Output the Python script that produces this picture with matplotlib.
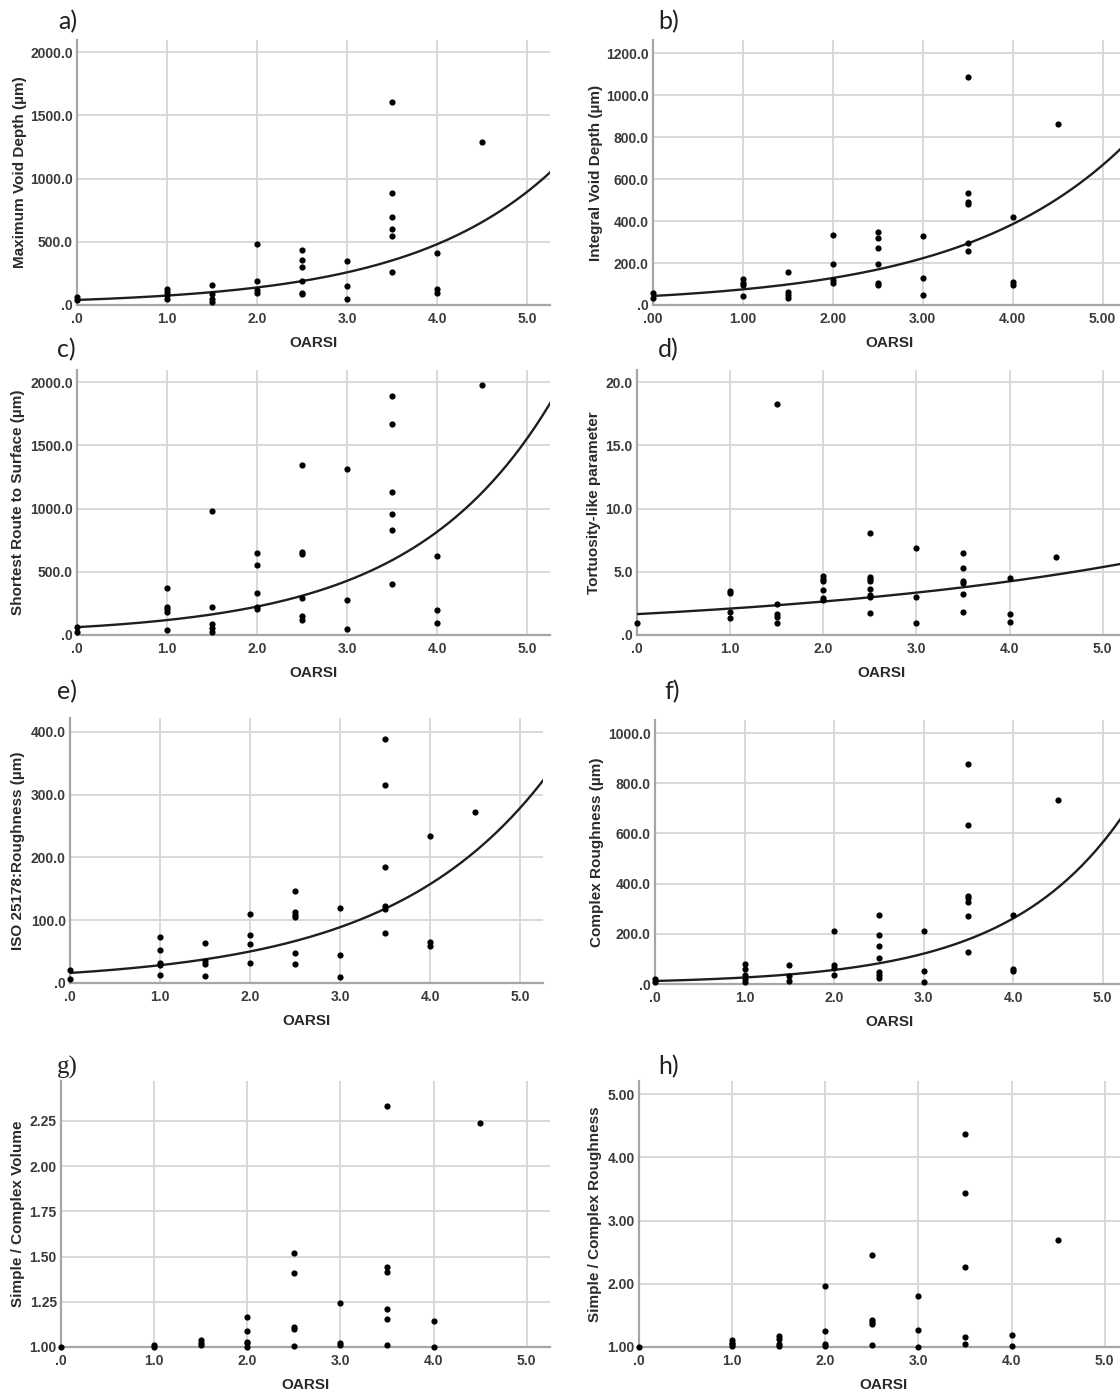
import numpy as np
import matplotlib
matplotlib.use("Agg")
import matplotlib.pyplot as plt

W, H = 1120, 1395

# ---- scatter data (OARSI grade vs. measured value) ----
a_x = [0, 0, 1, 1, 1, 1, 1.5, 1.5, 1.5, 1.5, 2, 2, 2, 2,
       2.5, 2.5, 2.5, 2.5, 2.5, 2.5, 3, 3, 3,
       3.5, 3.5, 3.5, 3.5, 3.5, 3.5, 4, 4, 4, 4.5]
a_y = [60, 40, 130, 105, 80, 50, 160, 90, 50, 25, 480, 190, 120, 95,
       437, 353, 303, 192, 97, 87, 347, 153, 47,
       1603, 882, 692, 597, 545, 258, 410, 124, 92, 1289]

b_x = [0, 0, 1, 1, 1, 1, 1.5, 1.5, 1.5, 1.5, 2, 2, 2, 2,
       2.5, 2.5, 2.5, 2.5, 2.5, 2.5, 3, 3, 3,
       3.5, 3.5, 3.5, 3.5, 3.5, 3.5, 4, 4, 4, 4.5]
b_y = [59, 35, 122, 107, 95, 43, 159, 64, 48, 32, 332, 194, 119, 103,
       346, 321, 270, 194, 103, 95, 327, 130, 49,
       1086, 533, 490, 482, 294, 259, 418, 108, 95, 862]

c_x = [0, 0, 1, 1, 1, 1, 1, 1.5, 1.5, 1.5, 1.5, 1.5, 2, 2, 2, 2, 2,
       2.5, 2.5, 2.5, 2.5, 2.5, 2.5, 3, 3, 3,
       3.5, 3.5, 3.5, 3.5, 3.5, 3.5, 4, 4, 4, 4.5]
c_y = [66, 26, 375, 224, 203, 185, 40, 984, 224, 84, 58, 26, 646, 551, 330, 224, 203,
       1343, 657, 644, 295, 153, 119, 1311, 274, 45,
       1894, 1670, 1129, 958, 831, 406, 628, 195, 92, 1979]

d_x = [0, 1, 1, 1, 1, 1.5, 1.5, 1.5, 1.5, 1.5, 2, 2, 2, 2, 2, 2,
       2.5, 2.5, 2.5, 2.5, 2.5, 2.5, 2.5, 2.5, 3, 3, 3,
       3.5, 3.5, 3.5, 3.5, 3.5, 3.5, 4, 4, 4, 4.5]
d_y = [0.92, 3.5, 3.3, 1.85, 1.37, 18.3, 2.45, 1.64, 1.4, 0.92, 4.67, 4.46, 4.3, 3.56, 2.95, 2.77,
       8.05, 4.62, 4.46, 4.3, 3.61, 3.17, 3.03, 1.77, 6.91, 2.98, 0.92,
       6.46, 5.33, 4.25, 4.09, 3.22, 1.85, 4.49, 1.66, 1.06, 6.2]

e_x = [0, 0, 1, 1, 1, 1, 1, 1.5, 1.5, 1.5, 1.5, 2, 2, 2, 2,
       2.5, 2.5, 2.5, 2.5, 2.5, 2.5, 3, 3, 3,
       3.5, 3.5, 3.5, 3.5, 3.5, 3.5, 4, 4, 4, 4.5]
e_y = [21, 6, 74, 52, 32, 29, 12, 64, 35, 31, 11, 110, 76, 62, 32,
       147, 113, 109, 105, 48, 30, 120, 44, 9,
       388, 315, 185, 122, 118, 80, 234, 65, 59, 273]

f_x = [0, 0, 1, 1, 1, 1, 1, 1.5, 1.5, 1.5, 2, 2, 2, 2,
       2.5, 2.5, 2.5, 2.5, 2.5, 2.5, 2.5, 3, 3, 3,
       3.5, 3.5, 3.5, 3.5, 3.5, 3.5, 3.5, 4, 4, 4, 4.5]
f_y = [20, 9, 80, 58, 35, 20, 7, 74, 33, 10, 213, 76, 62, 36,
       273, 197, 153, 104, 47, 36, 25, 213, 52, 8,
       876, 632, 351, 342, 328, 271, 129, 275, 60, 53, 734]

g_x = [0, 1, 1, 1.5, 1.5, 1.5, 2, 2, 2, 2, 2,
       2.5, 2.5, 2.5, 2.5, 2.5, 3, 3, 3,
       3.5, 3.5, 3.5, 3.5, 3.5, 3.5, 4, 4, 4.5]
g_y = [1.00, 1.01, 1.0, 1.04, 1.02, 1.01, 1.164, 1.09, 1.03, 1.02, 1.00,
       1.52, 1.41, 1.11, 1.10, 1.005, 1.245, 1.02, 1.01,
       2.33, 1.44, 1.415, 1.21, 1.155, 1.01, 1.146, 1.00, 2.24]

h_x = [0, 1, 1, 1, 1, 1.5, 1.5, 1.5, 1.5, 2, 2, 2, 2,
       2.5, 2.5, 2.5, 2.5, 2.5, 3, 3, 3,
       3.5, 3.5, 3.5, 3.5, 3.5, 4, 4, 4.5]
h_y = [1.00, 1.105, 1.07, 1.04, 1.015, 1.18, 1.12, 1.05, 1.01, 1.96, 1.25, 1.04, 1.015,
       2.45, 1.42, 1.40, 1.36, 1.03, 1.80, 1.27, 1.0,
       4.37, 3.44, 2.26, 1.16, 1.05, 1.185, 1.01, 2.70]

# exponential fit lines y = A * exp(B * x)
fit_a = (40, 0.622)
fit_b = (43, 0.548)
fit_c = (62, 0.645)
fit_d = (1.65, 0.236)
fit_e = (16, 0.572)
fit_f = (12, 0.77)

y_labels = ["Maximum Void Depth (µm)", "Integral Void Depth (µm)",
            "Shortest Route to Surface (µm)", "Tortuosity-like parameter",
            "ISO 25178:Roughness (µm)", "Complex Roughness (µm)",
            "Simple / Complex Volume", "Simple / Complex Roughness"]
panel_tags = ["a)", "b)", "c)", "d)", "e)", "f)", "g)", "h)"]

yticks_a = [0, 500, 1000, 1500, 2000]
yticks_b = [0, 200, 400, 600, 800, 1000, 1200]
yticks_c = [0, 500, 1000, 1500, 2000]
yticks_d = [0, 5, 10, 15, 20]
yticks_e = [0, 100, 200, 300, 400]
yticks_f = [0, 200, 400, 600, 800, 1000]
yticks_g = [1.00, 1.25, 1.50, 1.75, 2.00, 2.25]
yticks_h = [1, 2, 3, 4, 5]
xticks = [0, 1, 2, 3, 4, 5]


def spss_fmt(v, dec):
    # SPSS drops the leading zero: 0.0 -> ".0"
    s = f"{v:.{dec}f}"
    if s.startswith("0."):
        s = s[1:]
    return s


# layout in pixels: left, right, top, bottom of plot area
boxes = [(77, 550, 40, 305), (653, 1125, 40, 305),
         (77, 550, 370, 635), (637, 1126, 370, 635),
         (70, 543, 718, 983), (655, 1125, 720, 984),
         (61, 550, 1081, 1347), (639, 1128, 1081, 1347)]
ylabel_x = [20, 596, 18, 594, 18, 597, 18, 595]
tag_pos = [(58, 22), (658, 22), (57, 350), (658, 350),
           (57, 692), (664, 692), (57, 1067), (658, 1067)]

panels = [
    (a_x, a_y, fit_a, yticks_a, 2095, 0, 1, 1),
    (b_x, b_y, fit_b, yticks_b, 1262, 0, 1, 2),
    (c_x, c_y, fit_c, yticks_c, 2097, 0, 1, 1),
    (d_x, d_y, fit_d, yticks_d, 20.95, 0, 1, 1),
    (e_x, e_y, fit_e, yticks_e, 422, 0, 1, 1),
    (f_x, f_y, fit_f, yticks_f, 1052, 0, 1, 1),
    (g_x, g_y, None, yticks_g, 2.47, 1.0, 2, 1),
    (h_x, h_y, None, yticks_h, 5.21, 1.0, 2, 1),
]

plt.rcParams['font.family'] = ['Liberation Sans', 'DejaVu Sans']

fig = plt.figure(figsize=(W / 100, H / 100), dpi=100)
fig.patch.set_facecolor('white')

grid_col = '#d3d8dd'
spine_col = '#a6a6a6'
tick_col = '#3a3a3a'

for i, (xs, ys, fit, yt, ymax, ymin, ydec, xdec) in enumerate(panels):
    l, r, t, b = boxes[i]
    ax = fig.add_axes([l / W, 1 - b / H, (r - l) / W, (b - t) / H])
    ax.set_xlim(0, 5.25)
    ax.set_ylim(ymin, ymax)

    ax.set_xticks(xticks)
    ax.set_xticklabels([spss_fmt(v, xdec) for v in xticks])
    ax.set_yticks(yt)
    ax.set_yticklabels([spss_fmt(v, ydec) for v in yt])
    ax.tick_params(length=0, labelsize=10, colors=tick_col)
    ax.tick_params(axis='x', pad=5)
    ax.tick_params(axis='y', pad=3)
    for lab in ax.get_xticklabels() + ax.get_yticklabels():
        lab.set_fontweight('bold')

    ax.grid(True, color=grid_col, linewidth=1.3)
    ax.set_axisbelow(True)
    for s in ['top', 'right']:
        ax.spines[s].set_visible(False)
    for s in ['left', 'bottom']:
        ax.spines[s].set_color(spine_col)
        ax.spines[s].set_linewidth(1.6)

    ax.scatter(xs, ys, s=20, color='black', zorder=4, clip_on=False, linewidths=0)

    if fit is not None:
        xx = np.linspace(0, 5.3, 200)
        ax.plot(xx, fit[0] * np.exp(fit[1] * xx), color='#1e1e1e', linewidth=1.7, zorder=3)

    ax.set_ylabel(y_labels[i], fontsize=11, fontweight='bold', color='#2a2a2a')
    ax.yaxis.set_label_coords((ylabel_x[i] - l) / (r - l), 0.5)
    ax.yaxis.label.set_va('center')
    ax.set_xlabel("OARSI", fontsize=11, fontweight='bold', color='#2a2a2a')
    ax.xaxis.set_label_coords(0.5, -38 / (b - t))
    ax.xaxis.label.set_va('center')

    tx, ty = tag_pos[i]
    fam = ['Liberation Serif', 'DejaVu Serif'] if panel_tags[i] == "g)" else ['Lato', 'DejaVu Sans']
    fig.text(tx / W, 1 - ty / H, panel_tags[i], fontsize=18, family=fam,
             ha='left', va='center', color='#222222')

fig.savefig('out.png', dpi=100)
